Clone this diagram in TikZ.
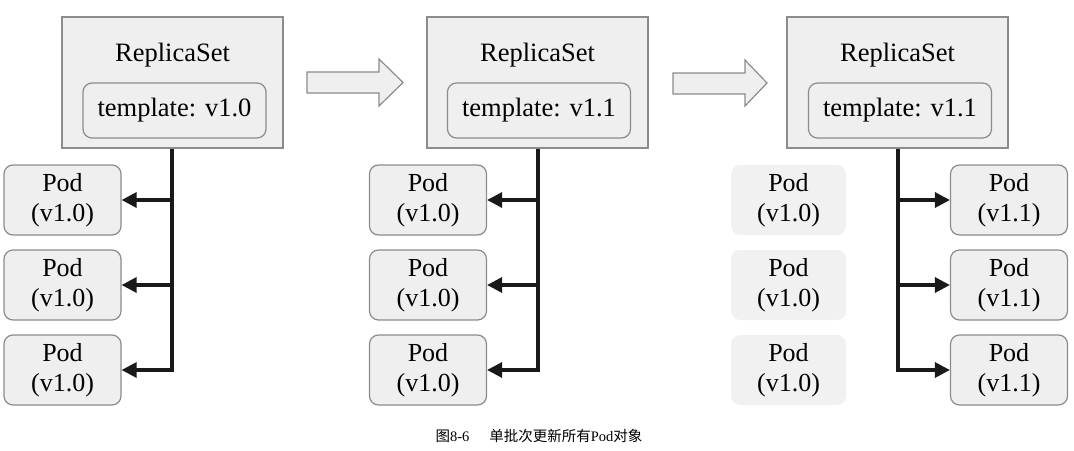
\documentclass[tikz,border=0pt]{standalone}
\usepackage{fontspec}
\setmainfont{Liberation Serif}
\newfontfamily\cjk{Noto Sans CJK SC}
\usetikzlibrary{arrows.meta}
\definecolor{boxfill}{HTML}{EFEFEF}
\definecolor{boxline}{HTML}{8C8C8C}
\definecolor{fadefill}{HTML}{F1F1F1}
\tikzset{
  rsbox/.style={draw=boxline, fill=boxfill, line width=1.4pt, minimum width=221pt, minimum height=131pt, inner sep=0pt},
  tplbox/.style={draw=boxline, fill=boxfill, line width=1.2pt, rounded corners=9pt, minimum width=183pt, minimum height=55pt, inner sep=0pt, font=\fontsize{26.5}{30}\selectfont},
  rstitle/.style={inner sep=0pt, font=\fontsize{26.5}{30}\selectfont},
  podbox/.style={draw=boxline, fill=boxfill, line width=1.2pt, rounded corners=9pt, minimum width=117pt, minimum height=70pt, inner sep=0pt, align=center, font=\fontsize{26}{30}\selectfont},
  fadepod/.style={fill=fadefill, rounded corners=9pt, minimum width=115pt, minimum height=70pt, inner sep=0pt, align=center, font=\fontsize{26}{30}\selectfont},
  conn/.style={line width=3.2pt, black!90},
  podarrow/.style={conn, -{Triangle[length=15pt,width=15pt]}},
  bigarrow/.style={draw=boxline, fill=boxfill, line width=1.2pt, line join=miter},
}
\begin{document}
\begin{tikzpicture}[x=1pt,y=-1pt]
\useasboundingbox (0,0) rectangle (1074,450);
% ReplicaSets
\node[rsbox] (rs1) at (172.5,82.5) {};
\node[rstitle] (t1) at (172.5,55) {ReplicaSet};
\node[tplbox] (p1) at (174.5,110.5) {template: v1.0};
\node[rsbox] (rs2) at (537.5,82.5) {};
\node[rstitle] (t2) at (537.5,55) {ReplicaSet};
\node[tplbox] (p2) at (539,110.5) {template: v1.1};
\node[rsbox] (rs3) at (897.5,82.5) {};
\node[rstitle] (t3) at (897.5,55) {ReplicaSet};
\node[tplbox] (p3) at (900,110.5) {template: v1.1};
% big arrows
\draw[bigarrow] (307,72) -- (379,72) -- (379,59) -- (403,82.5) -- (379,106) -- (379,93) -- (307,93) -- cycle;
\draw[bigarrow] (673,73) -- (745,73) -- (745,60) -- (767,83) -- (745,106) -- (745,94) -- (673,94) -- cycle;
% pods panel 1
\node[podbox] (a1) at (62.5,200) {Pod\\(v1.0)};
\node[podbox] (a2) at (62.5,285) {Pod\\(v1.0)};
\node[podbox] (a3) at (62.5,370) {Pod\\(v1.0)};
% pods panel 2
\node[podbox] (b1) at (428,200) {Pod\\(v1.0)};
\node[podbox] (b2) at (428,285) {Pod\\(v1.0)};
\node[podbox] (b3) at (428,370) {Pod\\(v1.0)};
% pods panel 3
\node[fadepod] (c1) at (788.5,200) {Pod\\(v1.0)};
\node[fadepod] (c2) at (788.5,285) {Pod\\(v1.0)};
\node[fadepod] (c3) at (788.5,370) {Pod\\(v1.0)};
\node[podbox] (d1) at (1009,200) {Pod\\(v1.1)};
\node[podbox] (d2) at (1009,285) {Pod\\(v1.1)};
\node[podbox] (d3) at (1009,370) {Pod\\(v1.1)};
% connectors
\coordinate (j1) at (172,370);
\coordinate (j2) at (538,370);
\coordinate (j3) at (898,370);
\draw[conn] (rs1.south -| j1) -- ([yshift=1.6pt]j1);
\draw[podarrow] (j1 |- a1.east) -- (a1.east);
\draw[podarrow] (j1 |- a2.east) -- (a2.east);
\draw[podarrow] ([xshift=1.6pt]j1) -- (a3.east);
\draw[conn] (rs2.south -| j2) -- ([yshift=1.6pt]j2);
\draw[podarrow] (j2 |- b1.east) -- (b1.east);
\draw[podarrow] (j2 |- b2.east) -- (b2.east);
\draw[podarrow] ([xshift=1.6pt]j2) -- (b3.east);
\draw[conn] (rs3.south -| j3) -- ([yshift=1.6pt]j3);
\draw[podarrow] (j3 |- d1.west) -- (d1.west);
\draw[podarrow] (j3 |- d2.west) -- (d2.west);
\draw[podarrow] ([xshift=-1.6pt]j3) -- (d3.west);
% caption
\node[inner sep=0pt, font=\fontsize{14.5}{16}\selectfont] (cap) at (539,436) {{\cjk 图}8-6\hspace{20pt}{\cjk 单批次更新所有}Pod{\cjk 对象}};
\end{tikzpicture}
\end{document}
